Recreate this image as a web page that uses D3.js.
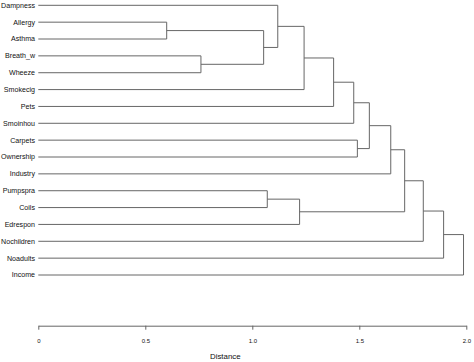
<!DOCTYPE html>
<html>
<head>
<meta charset="utf-8">
<script src="https://cdn.jsdelivr.net/npm/d3@7"></script>
<style>
  body { margin: 0; background: #fff; }
  svg { display: block; font-family: "Liberation Sans", Arial, sans-serif; }
</style>
</head>
<body>
<div id="chart"></div>
<script>
// leaves in display order (top to bottom)
const leaves = ["Dampness", "Allergy", "Asthma", "Breath_w", "Wheeze", "Smokecig",
  "Pets", "Smoinhou", "Carpets", "Ownership", "Industry", "Pumpspra", "Coils",
  "Edrespon", "Nochildren", "Noadults", "Income"];

// merge steps, hclust style: negative = leaf (1-based), positive = earlier step
const mergeA = [-2, -4, 1, -12, -1, 4, 5, 7, 8, -9, 9, 11, 12, 13, 14, 15];
const mergeB = [-3, -5, 2, -13, 3, -14, -6, -7, -8, -10, 10, -11, 6, -15, -16, -17];
const heights = [0.60, 0.76, 1.053, 1.07, 1.119, 1.221, 1.242, 1.38, 1.474, 1.491,
  1.547, 1.647, 1.712, 1.799, 1.894, 1.987];

const tickValues = [0, 0.5, 1, 1.5, 2];
const axisTitle = "Distance";

const width = 474, height = 362;

const svg = d3.select("#chart")
  .append("svg")
  .attr("width", width)
  .attr("height", height);

const x = d3.scaleLinear().domain([0, 2]).range([38.3, 466.3]);
const y = d3.scalePoint().domain(leaves).range([5.3, 275]);

const lineColor = "#666";
const g = svg.append("g")
  .attr("fill", "none")
  .attr("stroke", lineColor)
  .attr("stroke-width", 1);

// positions of each node
const pos = id => id < 0
  ? { x: x(0), y: y(leaves[-id - 1]) }
  : nodes[id - 1];

const nodes = [];
heights.forEach((h, i) => {
  const a = pos(mergeA[i]);
  const b = pos(mergeB[i]);
  const xm = x(h);
  const ym = (a.y + b.y) / 2;
  nodes.push({ x: xm, y: ym });
  g.append("path")
    .attr("d", `M${a.x},${a.y}H${xm}V${b.y}H${b.x}`);
});

// leaf labels
svg.append("g")
  .selectAll("text")
  .data(leaves)
  .join("text")
  .attr("x", 35)
  .attr("y", d => y(d))
  .attr("dy", "0.35em")
  .attr("text-anchor", "end")
  .attr("font-size", 7.1)
  .attr("fill", "#111")
  .text(d => d);

// axis
const axis = d3.axisBottom(x)
  .tickValues(tickValues)
  .tickSize(4)
  .tickSizeOuter(0)
  .tickPadding(9)
  .tickFormat(d => d === 0 ? "0" : d3.format(".1f")(d));

const ax = svg.append("g")
  .attr("transform", "translate(0,325.7)")
  .call(axis);
ax.select(".domain").attr("stroke", lineColor);
ax.selectAll(".tick line").attr("stroke", lineColor);
ax.selectAll(".tick text")
  .attr("font-size", 6)
  .attr("fill", "#111")
  .attr("font-family", "Liberation Sans, Arial, sans-serif");

svg.append("text")
  .attr("x", 225.3)
  .attr("y", 356.7)
  .attr("dy", "0.35em")
  .attr("text-anchor", "middle")
  .attr("font-size", 7.9)
  .attr("fill", "#111")
  .text(axisTitle);
</script>
</body>
</html>
